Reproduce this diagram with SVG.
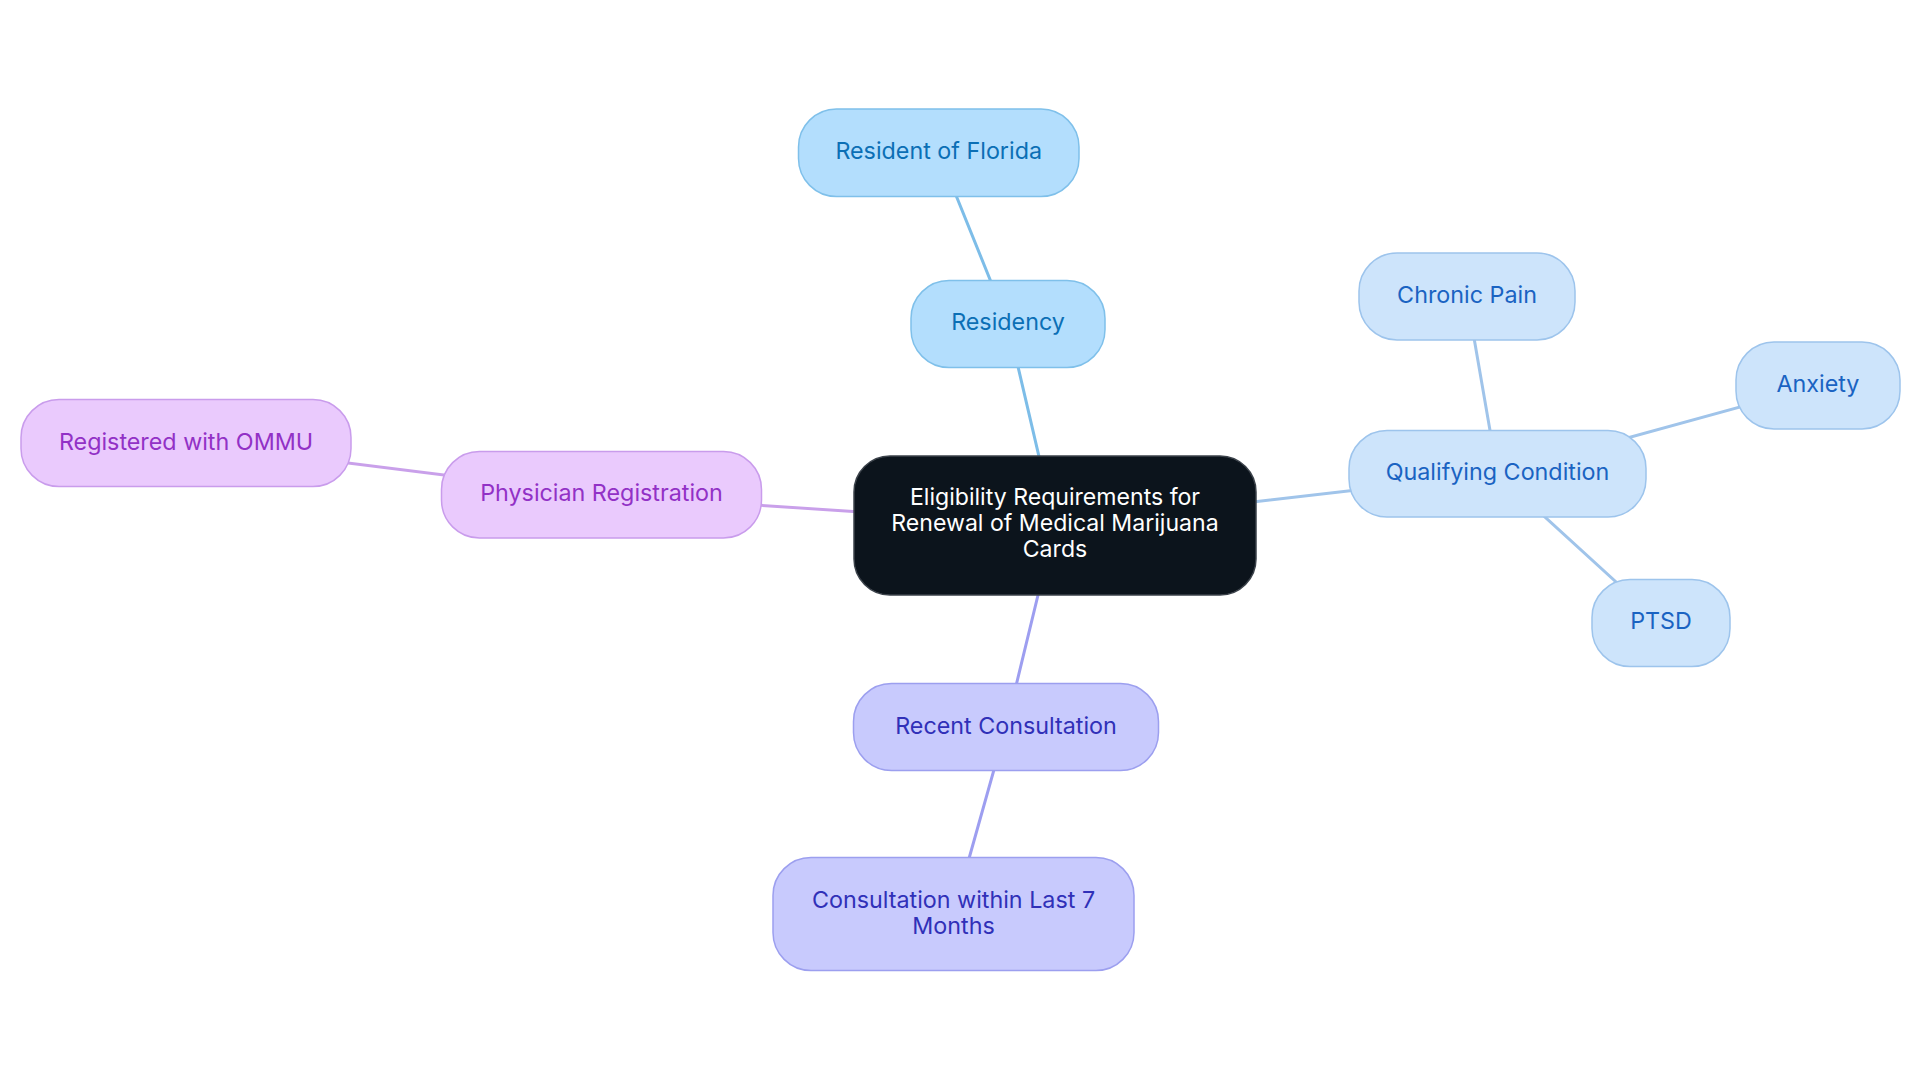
<svg xmlns="http://www.w3.org/2000/svg" width="1920" height="1083" viewBox="0 0 1920 1083">
<style>
.t{font-family:Inter,"Noto Sans","Liberation Sans",sans-serif;font-size:23.3px;text-anchor:middle}
.c{font-size:23.1px;fill:#ffffff}
.res rect{fill:#b3defd;stroke:#7fc0ea;stroke-width:1.5}
.res text{fill:#0b6fb5}
.qual rect{fill:#cde4fb;stroke:#9dc4ec;stroke-width:1.5}
.qual text{fill:#1a63c2}
.phy rect{fill:#eacafd;stroke:#c99cec;stroke-width:1.5}
.phy text{fill:#9231c6}
.con rect{fill:#c8cafd;stroke:#9c9fef;stroke-width:1.5}
.con text{fill:#3030b8}
.e{stroke-width:3;fill:none;stroke-linecap:round}
</style>
<g id="connectors">
<line class="e" x1="1055" y1="525" x2="1008" y2="324" stroke="#7dbde8"/>
<line class="e" x1="1008" y1="324" x2="938.7" y2="152.5" stroke="#7dbde8"/>
<line class="e" x1="1055" y1="525" x2="1497.5" y2="473.7" stroke="#a0c4ea"/>
<line class="e" x1="1497.5" y1="473.7" x2="1466.8" y2="296.3" stroke="#a0c4ea"/>
<line class="e" x1="1497.5" y1="473.7" x2="1818" y2="385.5" stroke="#a0c4ea"/>
<line class="e" x1="1497.5" y1="473.7" x2="1661" y2="623" stroke="#a0c4ea"/>
<line class="e" x1="1055" y1="525" x2="601.5" y2="494.7" stroke="#c9a0ea"/>
<line class="e" x1="601.5" y1="494.7" x2="186" y2="442.8" stroke="#c9a0ea"/>
<line class="e" x1="1055" y1="525" x2="1006" y2="727" stroke="#9d9ef0"/>
<line class="e" x1="1006" y1="727" x2="953.4" y2="914" stroke="#9d9ef0"/>
</g>
<g id="root">
<rect x="854" y="456" width="402" height="139" rx="36" fill="#0c141c" stroke="#3b424a" stroke-width="1.5"/>
<text class="t c" x="1055" y="505">Eligibility Requirements for</text>
<text class="t c" x="1055" y="531">Renewal of Medical Marijuana</text>
<text class="t c" x="1055" y="557">Cards</text>
</g>
<g id="residency" class="res">
<rect x="911" y="280.5" width="194" height="87" rx="38"/>
<text class="t" x="1008" y="330">Residency</text>
</g>
<g id="resident-florida" class="res">
<rect x="798.5" y="109" width="280.5" height="87.5" rx="38"/>
<text class="t" x="938.7" y="159">Resident of Florida</text>
</g>
<g id="qualifying" class="qual">
<rect x="1349" y="430.5" width="297" height="86.5" rx="38"/>
<text class="t" x="1497.5" y="480">Qualifying Condition</text>
</g>
<g id="chronic-pain" class="qual">
<rect x="1359" y="253" width="216" height="87" rx="38"/>
<text class="t" x="1467" y="303">Chronic Pain</text>
</g>
<g id="anxiety" class="qual">
<rect x="1736" y="342" width="164" height="87" rx="38"/>
<text class="t" x="1818" y="392">Anxiety</text>
</g>
<g id="ptsd" class="qual">
<rect x="1592" y="579.5" width="138" height="87" rx="38"/>
<text class="t" x="1661" y="629">PTSD</text>
</g>
<g id="physician" class="phy">
<rect x="441.5" y="451.5" width="320" height="86.5" rx="38"/>
<text class="t" x="601.5" y="501">Physician Registration</text>
</g>
<g id="ommu" class="phy">
<rect x="21" y="399.5" width="330" height="87" rx="38"/>
<text class="t" x="186" y="449.5">Registered with OMMU</text>
</g>
<g id="recent" class="con">
<rect x="853.5" y="683.5" width="305" height="87" rx="38"/>
<text class="t" x="1006" y="733.5">Recent Consultation</text>
</g>
<g id="last7" class="con">
<rect x="773" y="857.5" width="361" height="113" rx="38"/>
<text class="t" x="953.5" y="908">Consultation within Last 7</text>
<text class="t" x="953.5" y="933.5">Months</text>
</g>
</svg>
